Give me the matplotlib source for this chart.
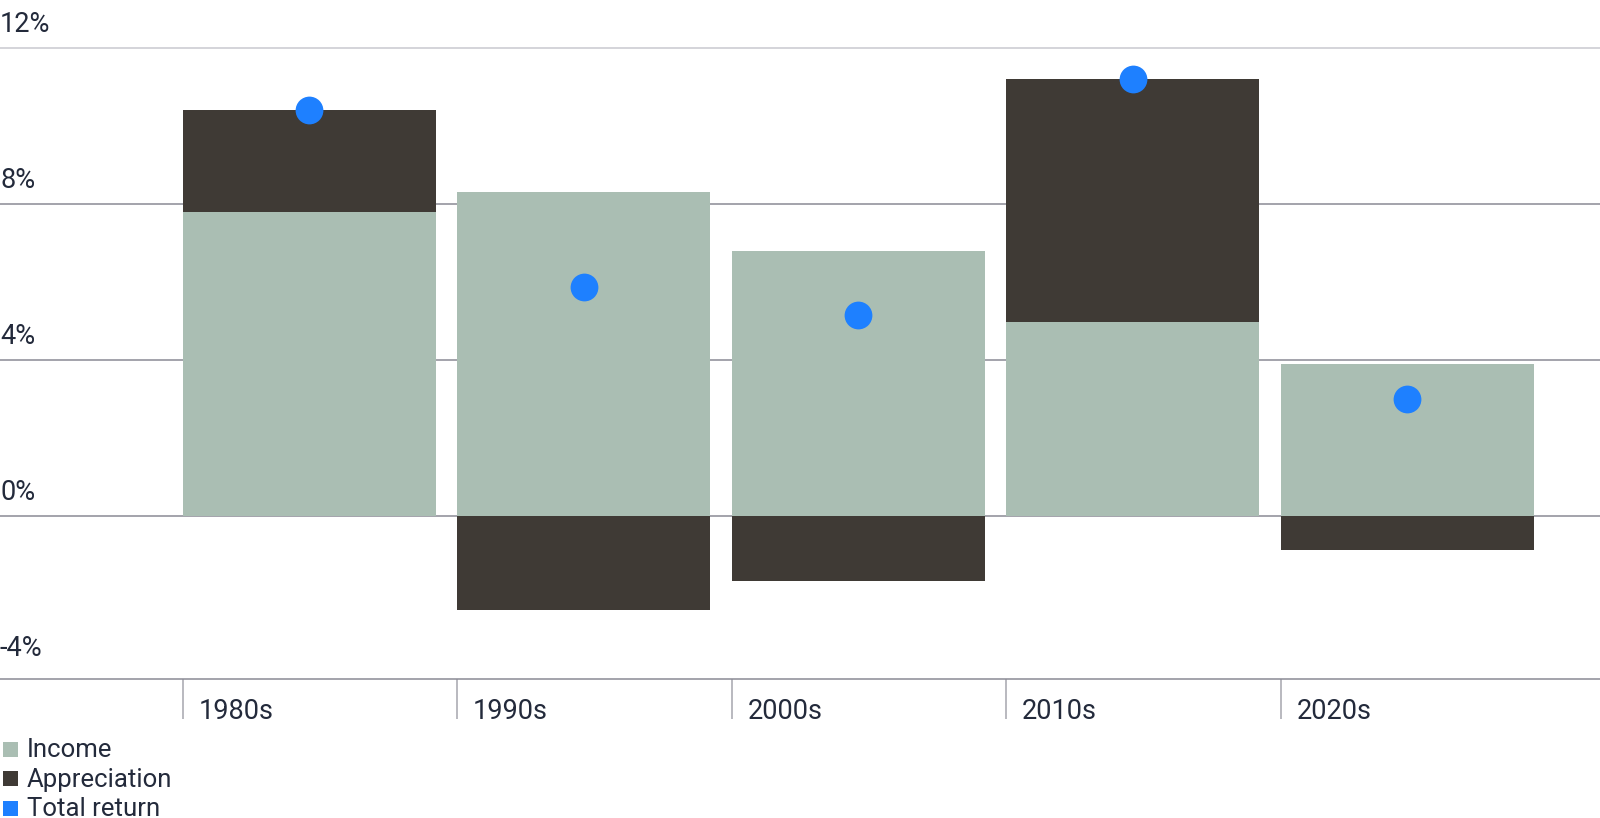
import matplotlib
matplotlib.use("Agg")
import matplotlib.pyplot as plt
from matplotlib.patches import Rectangle

decades = ["1980s", "1990s", "2000s", "2010s", "2020s"]
income = [7.8, 8.3, 6.8, 4.97, 3.88]
appreciation = [2.6, -2.42, -1.67, 6.22, -0.89]
total_return = [10.4, 5.86, 5.15, 11.2, 3.0]
y_ticks = [12, 8, 4, 0, -4]
y_labels = ["12%", "8%", "4%", "0%", "-4%"]
series_names = ["Income", "Appreciation", "Total return"]

c_income = "#aabeb3"
c_app = "#3f3a35"
c_total = "#1e80ff"
c_text = "#232a3b"
c_grid = "#8a8a95"

plt.rcParams["font.family"] = ["Roboto", "DejaVu Sans"]

W, H = 1600, 818
fig = plt.figure(figsize=(W / 100, H / 100), dpi=100)
ax = fig.add_axes([0, (H - 679) / H, 1, 679 / H])

x = list(range(len(decades)))
ax.set_xlim(-183 / 274.5, (W - 183) / 274.5)
ax.set_ylim(-(679 - 515.7) / 39, 515.7 / 39)

# gridlines
for t in y_ticks:
    if t > y_ticks[-1]:
        col = "#c9c9cf" if t == max(y_ticks) else c_grid
        ax.axhline(t, color=col, lw=1.1, zorder=0)

# bars
app_bottom = [inc if a > 0 else 0 for inc, a in zip(income, appreciation)]
ax.bar(x, income, width=0.92, align="edge", color=c_income, lw=0, zorder=2)
ax.bar(x, appreciation, bottom=app_bottom, width=0.92, align="edge",
       color=c_app, lw=0, zorder=2)
ax.plot([i + 0.46 for i in x], total_return, "o", ms=20, mew=0,
        color=c_total, zorder=3)

# axes styling
for s in ["top", "left", "right"]:
    ax.spines[s].set_visible(False)
ax.spines["bottom"].set_color(c_grid)
ax.spines["bottom"].set_linewidth(1.1)
ax.set_yticks([])
ax.set_xticks(x)
ax.set_xticklabels([])
ax.tick_params(axis="x", direction="out", length=29, width=1.1, colors="#a5a5ad")

# y labels above gridlines
for t, lab in zip(y_ticks, y_labels):
    ax.annotate(lab, xy=(0, t), xycoords=("axes fraction", "data"),
                xytext=(0, 11), textcoords="offset points",
                ha="left", va="baseline", fontsize=19.5, color=c_text)

# category labels
for i, d in zip(x, decades):
    ax.annotate(d, xy=(i, 0), xycoords=("data", "axes fraction"),
                xytext=(11, -28.5), textcoords="offset points",
                ha="left", va="baseline", fontsize=19.5, color=c_text)

# legend
for k, (name, col) in enumerate(zip(series_names, [c_income, c_app, c_total])):
    cy = 749 + k * 29.5
    fig.add_artist(Rectangle((3 / W, 1 - (cy + 7.5) / H), 15 / W, 15 / H,
                             transform=fig.transFigure, color=col, lw=0))
    fig.text(27 / W, 1 - (cy + 8) / H, name, ha="left", va="baseline",
             fontsize=18.5, color=c_text)

fig.savefig("out.png", dpi=100)
